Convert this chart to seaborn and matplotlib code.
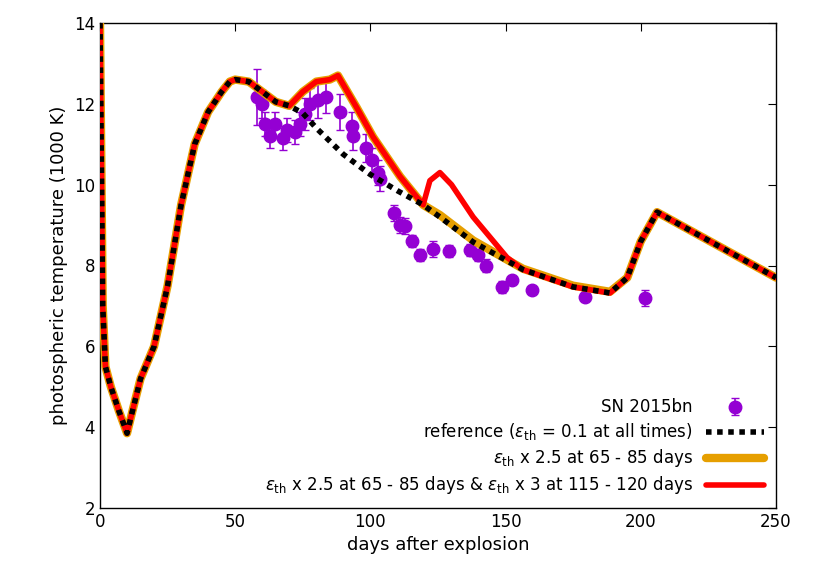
import matplotlib
matplotlib.use("Agg")
import matplotlib.pyplot as plt
import seaborn as sns

obs_day = [58.1,59.9,61,62.9,64.7,67.7,69.2,72.1,74,75.8,77.7,80.6,83.6,88.8,93.2,93.6,98.4,100.6,102.8,103.6,108.7,111,112.8,115.4,118.3,123.2,129.1,136.8,139.8,142.8,148.7,152.4,159.8,179.4,201.6]
obs_T = [12.17,12.0,11.5,11.2,11.5,11.15,11.35,11.3,11.5,11.75,12.0,12.1,12.17,11.8,11.45,11.2,10.9,10.6,10.3,10.15,9.3,9.0,8.98,8.6,8.26,8.4,8.36,8.38,8.26,8.0,7.47,7.64,7.4,7.22,7.2]
obs_err = [0.7,0.35,0.3,0.3,0.3,0.3,0.3,0.3,0.3,0.4,0.4,0.45,0.4,0.45,0.35,0.35,0.35,0.3,0.3,0.3,0.2,0.2,0.2,0.15,0.15,0.2,0.15,0.15,0.15,0.15,0.15,0.1,0.1,0.1,0.2]

ref_day = [0,1,2,4,7,10,12,15,20,25,30,35,40,45,48,50,55,60,65,70,75,80,90,100,110,119.5,125.7,138,156.4,175,188.6,195,200,206,250]
ref_T = [14,7.0,5.5,5.0,4.4,3.85,4.4,5.2,6.0,7.5,9.5,11.0,11.8,12.3,12.55,12.6,12.55,12.3,12.05,11.95,11.77,11.4,10.75,10.25,9.85,9.5,9.2,8.58,7.9,7.47,7.32,7.7,8.6,9.32,7.7]

eth_day = [0,1,2,4,7,10,12,15,20,25,30,35,40,45,48,50,55,60,65,70,75,80,85,88,95,101,111,119.5,125.7,138,156.4,175,188.6,195,200,206,250]
eth_T = [14,7.0,5.5,5.0,4.4,3.85,4.4,5.2,6.0,7.5,9.5,11.0,11.8,12.3,12.55,12.6,12.55,12.3,12.05,11.95,12.3,12.55,12.6,12.7,11.9,11.18,10.2,9.5,9.25,8.62,7.92,7.5,7.35,7.7,8.6,9.32,7.7]

red_day = [0,1,2,4,7,10,12,15,20,25,30,35,40,45,48,50,55,60,65,70,75,80,85,88,95,101,111,119.5,122,125.7,130,138,150.5,156.4,175,188.6,195,200,206,250]
red_T = [14,7.0,5.5,5.0,4.4,3.85,4.4,5.2,6.0,7.5,9.5,11.0,11.8,12.3,12.55,12.6,12.55,12.3,12.05,11.95,12.3,12.55,12.6,12.7,11.9,11.18,10.2,9.5,10.1,10.3,10.0,9.2,8.2,7.9,7.47,7.32,7.7,8.6,9.32,7.7]

sns.set_style("white")
fig = plt.figure(figsize=(8.3, 5.81), dpi=100)
ax = fig.add_axes([100/830, 1-508/581, 676/830, 485/581])

lab_obs = "SN 2015bn"
lab_ref = r"reference ($\epsilon_{\rm th}$ = 0.1 at all times)"
lab_eth = r"$\epsilon_{\rm th}$ x 2.5 at 65 - 85 days"
lab_red = r"$\epsilon_{\rm th}$ x 2.5 at 65 - 85 days & $\epsilon_{\rm th}$ x 3 at 115 - 120 days"

ax.errorbar(obs_day, obs_T, yerr=obs_err, fmt="o", color="#9400d3", ms=9, capsize=3, elinewidth=1.2, label=lab_obs, zorder=2)
sns.lineplot(x=eth_day, y=eth_T, ax=ax, color="#e69f00", lw=6, label=lab_eth, zorder=3)
sns.lineplot(x=red_day, y=red_T, ax=ax, color="#ff0000", lw=4, label=lab_red, zorder=4)
sns.lineplot(x=ref_day, y=ref_T, ax=ax, color="black", lw=4, linestyle=(0, (1, 1)), label=lab_ref, zorder=5)

h, l = ax.get_legend_handles_labels()
order = [l.index(x) for x in [lab_obs, lab_ref, lab_eth, lab_red]]
leg = ax.legend([h[i] for i in order], [l[i] for i in order], loc="lower right", markerfirst=False,
                frameon=False, fontsize=12, handlelength=3.5, labelspacing=0.3, borderaxespad=0.3)
for t in leg.get_texts():
    t.set_color("black")

ax.set_xlim(0, 250)
ax.set_ylim(2, 14)
ax.set_xticks(range(0, 251, 50))
ax.set_yticks(range(2, 15, 2))
ax.tick_params(direction="in", labelsize=12, top=True, right=True, length=6, colors="black")
for s in ax.spines.values():
    s.set_color("black"); s.set_linewidth(1)
ax.set_xlabel("days after explosion", fontsize=13, color="black")
ax.set_ylabel("photospheric temperature (1000 K)", fontsize=13, color="black")
fig.savefig("out.png", dpi=100)
